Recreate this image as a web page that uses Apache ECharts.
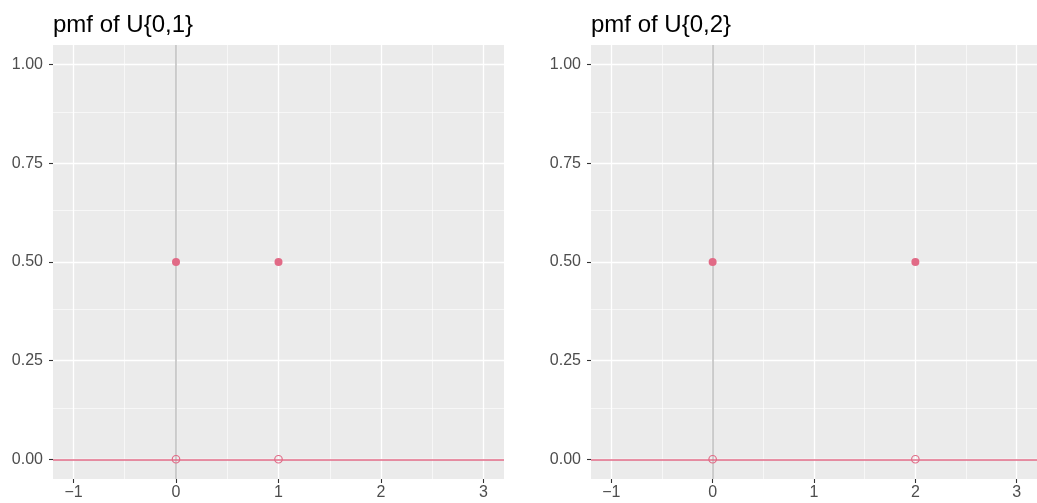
<!DOCTYPE html>
<html>
<head>
<meta charset="utf-8">
<script src="https://cdn.jsdelivr.net/npm/echarts@6/dist/echarts.min.js"></script>
<style>html,body{margin:0;padding:0;background:#fff;}#c{width:1037px;height:503px;}</style>
</head>
<body>
<div id="c"></div>
<script>
// ---- data ----
const titles = ['pmf of U{0,1}', 'pmf of U{0,2}'];
const support1 = [0, 1];
const prob1 = [0.5, 0.5];
const support2 = [0, 2];
const prob2 = [0.5, 0.5];
const xTicks = [-1, 0, 1, 2, 3];
const xMinor = [-0.5, 0.5, 1.5, 2.5];
const yTicks = [0, 0.25, 0.5, 0.75, 1];
const yMinor = [0.125, 0.375, 0.625, 0.875];
const xRange = [-1.2, 3.2];
const yRange = [-0.05, 1.05];

const PINK = '#E16A86';
const FONT = '"Liberation Sans", Arial, Helvetica, sans-serif';
const panels = [
  { support: support1, prob: prob1, left: 53 },
  { support: support2, prob: prob2, left: 591 }
];

const chart = echarts.init(document.getElementById('c'), null, { renderer: 'canvas' });

const grid = [], xAxis = [], yAxis = [], series = [], title = [];
panels.forEach((p, i) => {
  grid.push({ left: p.left, top: 45, width: 451, height: 434, show: true,
    backgroundColor: '#EBEBEB', borderWidth: 0, containLabel: false });
  title.push({ text: titles[i], left: p.left, top: 13, padding: 0,
    textStyle: { fontFamily: FONT, fontSize: 24, fontWeight: 'normal', color: '#000' } });
  const tick = { show: true, length: 4, lineStyle: { color: '#333333', width: 1.1 } };
  xAxis.push({ type: 'value', gridIndex: i, min: xRange[0], max: xRange[1],
    axisLine: { show: true, onZero: false, lineStyle: { color: 'rgba(0,0,0,0)' } }, splitLine: { show: false },
    axisTick: Object.assign({ customValues: xTicks }, tick),
    axisLabel: { customValues: xTicks, margin: 6, color: '#4D4D4D', fontSize: 16, fontFamily: FONT,
      formatter: v => String(v).replace('-', '\u2212') } });
  yAxis.push({ type: 'value', gridIndex: i, min: yRange[0], max: yRange[1],
    axisLine: { show: true, onZero: false, lineStyle: { color: 'rgba(0,0,0,0)' } }, splitLine: { show: false },
    axisTick: Object.assign({ customValues: yTicks }, tick),
    axisLabel: { customValues: yTicks, margin: 10, color: '#4D4D4D', fontSize: 16, fontFamily: FONT,
      formatter: v => v.toFixed(2) } });

  const mk = (arr, key, w) => arr.map(v => ({ [key]: v, lineStyle: { width: w } }));
  // grid lines
  series.push({ type: 'scatter', xAxisIndex: i, yAxisIndex: i, data: [], silent: true, z: 1,
    markLine: { silent: true, z: 1, symbol: ['none', 'none'], label: { show: false },
      animation: false,
      lineStyle: { color: '#FFFFFF', type: 'solid' },
      data: [].concat(mk(xMinor, 'xAxis', 0.6), mk(yMinor, 'yAxis', 0.6),
                      mk(xTicks, 'xAxis', 1.3), mk(yTicks, 'yAxis', 1.3)) } });
  // vertical line at x=0
  series.push({ type: 'scatter', xAxisIndex: i, yAxisIndex: i, data: [], silent: true, z: 2,
    markLine: { silent: true, z: 2, symbol: ['none', 'none'], label: { show: false }, animation: false,
      lineStyle: { color: '#BEBEBE', width: 1.5, type: 'solid' },
      data: [{ xAxis: 0 }] } });
  // horizontal line at y=0
  series.push({ type: 'scatter', xAxisIndex: i, yAxisIndex: i, data: [], silent: true, z: 3,
    markLine: { silent: true, z: 3, symbol: ['none', 'none'], label: { show: false }, animation: false,
      lineStyle: { color: PINK, width: 1.7, type: 'solid', opacity: 1 },
      data: [{ yAxis: 0 }] } });
  // filled points
  series.push({ type: 'scatter', xAxisIndex: i, yAxisIndex: i, z: 10, symbol: 'circle', symbolSize: 8,
    itemStyle: { color: PINK, opacity: 1 },
    data: p.support.map((x, k) => [x, p.prob[k]]) });
  // open points at zero
  series.push({ type: 'scatter', xAxisIndex: i, yAxisIndex: i, z: 11, symbol: 'circle', symbolSize: 7.5,
    itemStyle: { color: 'rgba(0,0,0,0)', borderColor: PINK, borderWidth: 1.2, opacity: 1 },
    data: p.support.map(x => [x, 0]) });
});

chart.setOption({ animation: false, title, grid, xAxis, yAxis, series });
</script>
</body>
</html>
